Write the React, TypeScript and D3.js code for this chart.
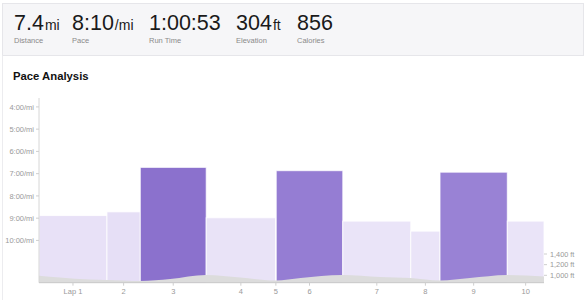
import React from "react";
import * as d3 from "d3";

// ---- data ----
const lapLabels = ["Lap 1", "2", "3", "4", "5", "6", "7", "8", "9", "10"];
const lapDistances = [1.0, 0.49, 0.97, 1.02, 0.01, 0.98, 1.0, 0.43, 0.99, 0.54]; // miles
const lapPaces = ["8:53", "8:43", "6:43", "8:59", "9:00", "6:52", "9:08", "9:35", "6:56", "9:08"]; // min/mi

const elevMiles = [0, 0.31, 0.75, 1.0, 1.49, 1.93, 2.46, 2.96, 3.48, 3.85, 4.46, 5.02, 5.47, 5.9, 6.34, 6.89, 7.43];
const elevFeet = [992, 959, 921, 912, 893, 931, 1006, 959, 902, 949, 1006, 968, 949, 902, 949, 1006, 977];

const paceTicks = [4, 5, 6, 7, 8, 9, 10];
const paceTickLabels = ["4:00/mi", "5:00/mi", "6:00/mi", "7:00/mi", "8:00/mi", "9:00/mi", "10:00/mi"];
const elevTicks = [1000, 1200, 1400];
const elevTickLabels = ["1,000 ft", "1,200 ft", "1,400 ft"];

const statValues = ["7.4", "8:10", "1:00:53", "304", "856"];
const statUnits = ["mi", "/mi", "", "ft", ""];
const statLabels = ["Distance", "Pace", "Run Time", "Elevation", "Calories"];

const title = "Pace Analysis";

// ---- helpers ----
const parsePace = (s: string) => {
  const [m, sec] = s.split(":").map(Number);
  return m + sec / 60;
};

const W = 586;
const H = 300;
const plotLeft = 39;
const plotRight = 544;
const plotTop = 98;
const plotBottom = 282.7;

const font = "'Helvetica Neue', 'Liberation Sans', Arial, sans-serif";

export default function App() {
  const paces = lapPaces.map(parsePace);
  const starts: number[] = [];
  let acc = 0;
  lapDistances.forEach((d) => {
    starts.push(acc);
    acc += d;
  });
  const total = acc;

  const x = d3.scaleLinear().domain([0, total]).range([plotLeft, plotRight]);
  const y = d3.scaleLinear().domain([3.6, 11.9]).range([plotTop, plotBottom]);
  const yE = d3.scaleLinear().domain([861, 1000]).range([plotBottom, 275.3]);

  const fastColor = d3
    .scaleLinear<string>()
    .domain([6.7, 6.95])
    .range(["#8a70cc", "#9a83d6"])
    .clamp(true);
  const slowColor = d3
    .scaleLinear<string>()
    .domain([8.7, 9.1])
    .range(["#e6dff6", "#eae4f8"])
    .clamp(true);

  const elevData = elevMiles.map((m, i) => ({ m, e: elevFeet[i] }));
  const area = d3
    .area<{ m: number; e: number }>()
    .x((d) => x(d.m))
    .y0(plotBottom)
    .y1((d) => yE(d.e))
    .curve(d3.curveMonotoneX);

  const xStats = [14, 72, 149, 236, 297];

  return (
    <div style={{ position: "absolute", left: 0, top: 0, width: W, height: H }}>
      <svg width={W} height={H} style={{ display: "block", fontFamily: font }}>
        <rect x={0} y={0} width={W} height={H} fill="#ffffff" />
        {/* card borders */}
        <rect x={2.5} y={3.5} width={581} height={52} fill="#f6f6f8" stroke="#e6e6ea" strokeWidth={1} />
        <line x1={2.5} y1={55.5} x2={2.5} y2={H} stroke="#ececef" strokeWidth={1} />

        {/* stats */}
        {statValues.map((v, i) => (
          <g key={i}>
            <text x={xStats[i]} y={29.5} fontSize={21.5} fill="#1a1a1a">
              {v}
              {statUnits[i] && (
                <tspan fontSize={14} dx={1}>
                  {statUnits[i]}
                </tspan>
              )}
            </text>
            <text x={xStats[i]} y={42.5} fontSize={7.5} fill="#8a8a8a">
              {statLabels[i]}
            </text>
          </g>
        ))}

        <text x={13} y={80} fontSize={11.3} fontWeight={700} fill="#111">
          {title}
        </text>

        {/* bars */}
        {paces.map((p, i) => {
          const x0 = x(starts[i]);
          const x1 = x(starts[i] + lapDistances[i]);
          const fast = p < 7.5;
          return (
            <rect
              key={i}
              x={x0}
              y={y(p)}
              width={Math.max(0, x1 - x0)}
              height={plotBottom - y(p)}
              fill={fast ? fastColor(p) : slowColor(p)}
              stroke="#ffffff"
              strokeOpacity={0.8}
              strokeWidth={1}
            />
          );
        })}

        {/* elevation */}
        <path d={area(elevData) || ""} fill="#dcdcdc" />

        {/* y axis */}
        <line x1={plotLeft} y1={plotTop} x2={plotLeft} y2={plotBottom} stroke="#d6d6d6" strokeWidth={1} />
        {paceTicks.map((t, i) => (
          <g key={t}>
            <line x1={plotLeft - 3} x2={plotLeft} y1={y(t)} y2={y(t)} stroke="#cfcfcf" />
            <text x={plotLeft - 5} y={y(t)} dy="0.35em" textAnchor="end" fontSize={7.5} fill="#999">
              {paceTickLabels[i]}
            </text>
          </g>
        ))}

        {/* x axis */}
        <line x1={plotLeft} y1={plotBottom} x2={plotRight} y2={plotBottom} stroke="#c8c8c8" strokeWidth={1} />
        {lapLabels.map((l, i) => {
          const cx = x(starts[i] + lapDistances[i] / 2);
          return (
            <g key={i}>
              <line x1={cx} x2={cx} y1={plotBottom} y2={plotBottom + 3} stroke="#cfcfcf" />
              <text x={cx} y={293.5} textAnchor="middle" fontSize={7.5} fill="#999">
                {l}
              </text>
            </g>
          );
        })}

        {/* elevation axis */}
        {elevTicks.map((t, i) => (
          <g key={t}>
            <line x1={plotRight} x2={plotRight + 3} y1={yE(t)} y2={yE(t)} stroke="#cfcfcf" />
            <text x={plotRight + 6} y={yE(t)} dy="0.35em" fontSize={7.3} fill="#999">
              {elevTickLabels[i]}
            </text>
          </g>
        ))}
      </svg>
    </div>
  );
}
